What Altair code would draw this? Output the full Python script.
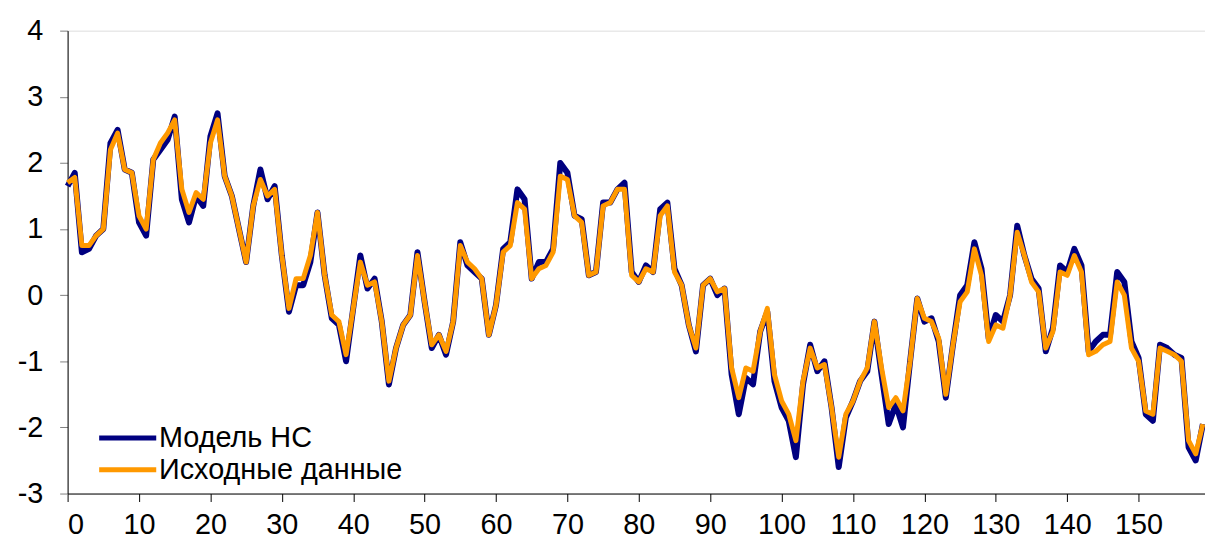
import altair as alt
import pandas as pd

x_vals = list(range(160))

model_ns = [
    1.65, 1.85, 0.65, 0.7, 0.9, 1.0, 2.3, 2.5, 1.9, 1.85,
    1.1, 0.9, 2.05, 2.2, 2.35, 2.7, 1.45, 1.1, 1.5, 1.35,
    2.4, 2.75, 1.8, 1.5, 1.0, 0.5, 1.35, 1.9, 1.45, 1.65,
    0.6, -0.25, 0.15, 0.15, 0.5, 1.25, 0.3, -0.35, -0.45, -1.0,
    -0.2, 0.6, 0.1, 0.25, -0.4, -1.35, -0.8, -0.45, -0.3, 0.65,
    -0.1, -0.8, -0.6, -0.9, -0.4, 0.8, 0.45, 0.35, 0.25, -0.6,
    -0.15, 0.7, 0.8, 1.6, 1.45, 0.25, 0.5, 0.5, 0.7, 2.0,
    1.85, 1.2, 1.15, 0.3, 0.35, 1.4, 1.4, 1.6, 1.7, 0.35,
    0.2, 0.45, 0.35, 1.3, 1.4, 0.4, 0.15, -0.45, -0.85, 0.15,
    0.25, 0.0, 0.1, -1.2, -1.8, -1.25, -1.35, -0.55, -0.25, -1.3,
    -1.7, -1.9, -2.45, -1.35, -0.75, -1.15, -1.0, -1.7, -2.6, -1.85,
    -1.6, -1.3, -1.15, -0.4, -1.2, -1.95, -1.65, -2.0, -1.0, -0.05,
    -0.4, -0.35, -0.7, -1.55, -0.75, 0.0, 0.15, 0.8, 0.4, -0.65,
    -0.3, -0.4, 0.0, 1.05, 0.6, 0.25, 0.1, -0.85, -0.5, 0.45,
    0.35, 0.7, 0.45, -0.85, -0.7, -0.6, -0.6, 0.35, 0.2, -0.7,
    -0.95, -1.8, -1.9, -0.75, -0.8, -0.9, -0.95, -2.3, -2.5, -1.95,
]

source_data = [
    1.7, 1.78, 0.75, 0.75, 0.9, 1.0, 2.2, 2.45, 1.9, 1.85,
    1.2, 1.0, 2.05, 2.3, 2.45, 2.65, 1.6, 1.25, 1.55, 1.45,
    2.3, 2.65, 1.8, 1.5, 1.0, 0.5, 1.35, 1.75, 1.5, 1.6,
    0.6, -0.2, 0.25, 0.25, 0.6, 1.25, 0.3, -0.3, -0.4, -0.9,
    -0.2, 0.5, 0.15, 0.2, -0.4, -1.3, -0.8, -0.45, -0.3, 0.6,
    -0.1, -0.75, -0.6, -0.85, -0.4, 0.75, 0.5, 0.4, 0.25, -0.6,
    -0.15, 0.65, 0.75, 1.4, 1.3, 0.25, 0.4, 0.45, 0.65, 1.8,
    1.75, 1.2, 1.1, 0.3, 0.35, 1.35, 1.4, 1.6, 1.6, 0.3,
    0.2, 0.4, 0.35, 1.2, 1.35, 0.35, 0.15, -0.45, -0.8, 0.15,
    0.25, 0.05, 0.1, -1.1, -1.55, -1.1, -1.15, -0.55, -0.2, -1.2,
    -1.6, -1.8, -2.2, -1.3, -0.8, -1.1, -1.05, -1.7, -2.45, -1.8,
    -1.6, -1.3, -1.1, -0.4, -1.1, -1.7, -1.55, -1.75, -1.0, -0.05,
    -0.35, -0.4, -0.65, -1.5, -0.75, -0.1, 0.05, 0.7, 0.3, -0.7,
    -0.45, -0.5, 0.0, 0.95, 0.6, 0.2, 0.05, -0.8, -0.55, 0.35,
    0.3, 0.6, 0.35, -0.9, -0.85, -0.75, -0.7, 0.2, 0.0, -0.8,
    -1.0, -1.75, -1.8, -0.8, -0.85, -0.9, -1.0, -2.2, -2.4, -1.95,
]

series_names = ["Модель НС", "Исходные данные"]
series_colors = ["#000080", "#FF9900"]

df = pd.concat([
    pd.DataFrame({"x": x_vals, "y": model_ns, "series": series_names[0]}),
    pd.DataFrame({"x": x_vals, "y": source_data, "series": series_names[1]}),
])

font = "Liberation Sans"

color = alt.Color(
    "series:N",
    scale=alt.Scale(domain=series_names, range=series_colors),
    legend=alt.Legend(
        title=None,
        orient="none",
        legendX=29,
        legendY=394,
        symbolType="stroke",
        symbolSize=3300,
        symbolStrokeWidth=5,
        clipHeight=32,
        labelFont=font,
        labelFontSize=29,
        labelColor="#000000",
        labelOffset=0,
        labelLimit=400,
        rowPadding=0,
    ),
)

x_enc = alt.X(
    "x:Q",
    scale=alt.Scale(domain=[0, 159.3], nice=False, zero=False),
    axis=alt.Axis(
        values=list(range(0, 160, 10)),
        title=None,
        grid=False,
        labelFont=font,
        labelFontSize=29,
        labelColor="#000000",
        labelPadding=9,
        tickSize=8,
        tickColor="#000000",
        domainColor="#000000",
    ),
)

y_enc = alt.Y(
    "y:Q",
    scale=alt.Scale(domain=[-3, 4], nice=False),
    axis=alt.Axis(
        values=list(range(-3, 5)),
        title=None,
        grid=False,
        labelFont=font,
        labelFontSize=29,
        labelColor="#000000",
        labelPadding=17,
        labelExpr="replace(datum.label, '\u2212', '-')",
        tickSize=8,
        tickColor="#808080",
        domainColor="#000000",
    ),
)

base = alt.Chart(df)

navy = base.transform_filter(alt.datum.series == series_names[0]).mark_line(
    strokeWidth=6, strokeJoin="round"
).encode(x=x_enc, y=y_enc, color=color)

orange = base.transform_filter(alt.datum.series == series_names[1]).mark_line(
    strokeWidth=5, strokeJoin="round"
).encode(x=x_enc, y=y_enc, color=color)

chart = (
    alt.layer(navy, orange)
    .properties(
        width=1145,
        height=466,
        autosize=alt.AutoSizeParams(type="none"),
        padding={"left": 60, "top": 21, "right": 0, "bottom": 50},
    )
    .configure_view(strokeWidth=0, stroke="transparent")
    .configure(background="#FFFFFF")
)

chart.save("out.html", embed_options={"renderer": "svg", "actions": False})
